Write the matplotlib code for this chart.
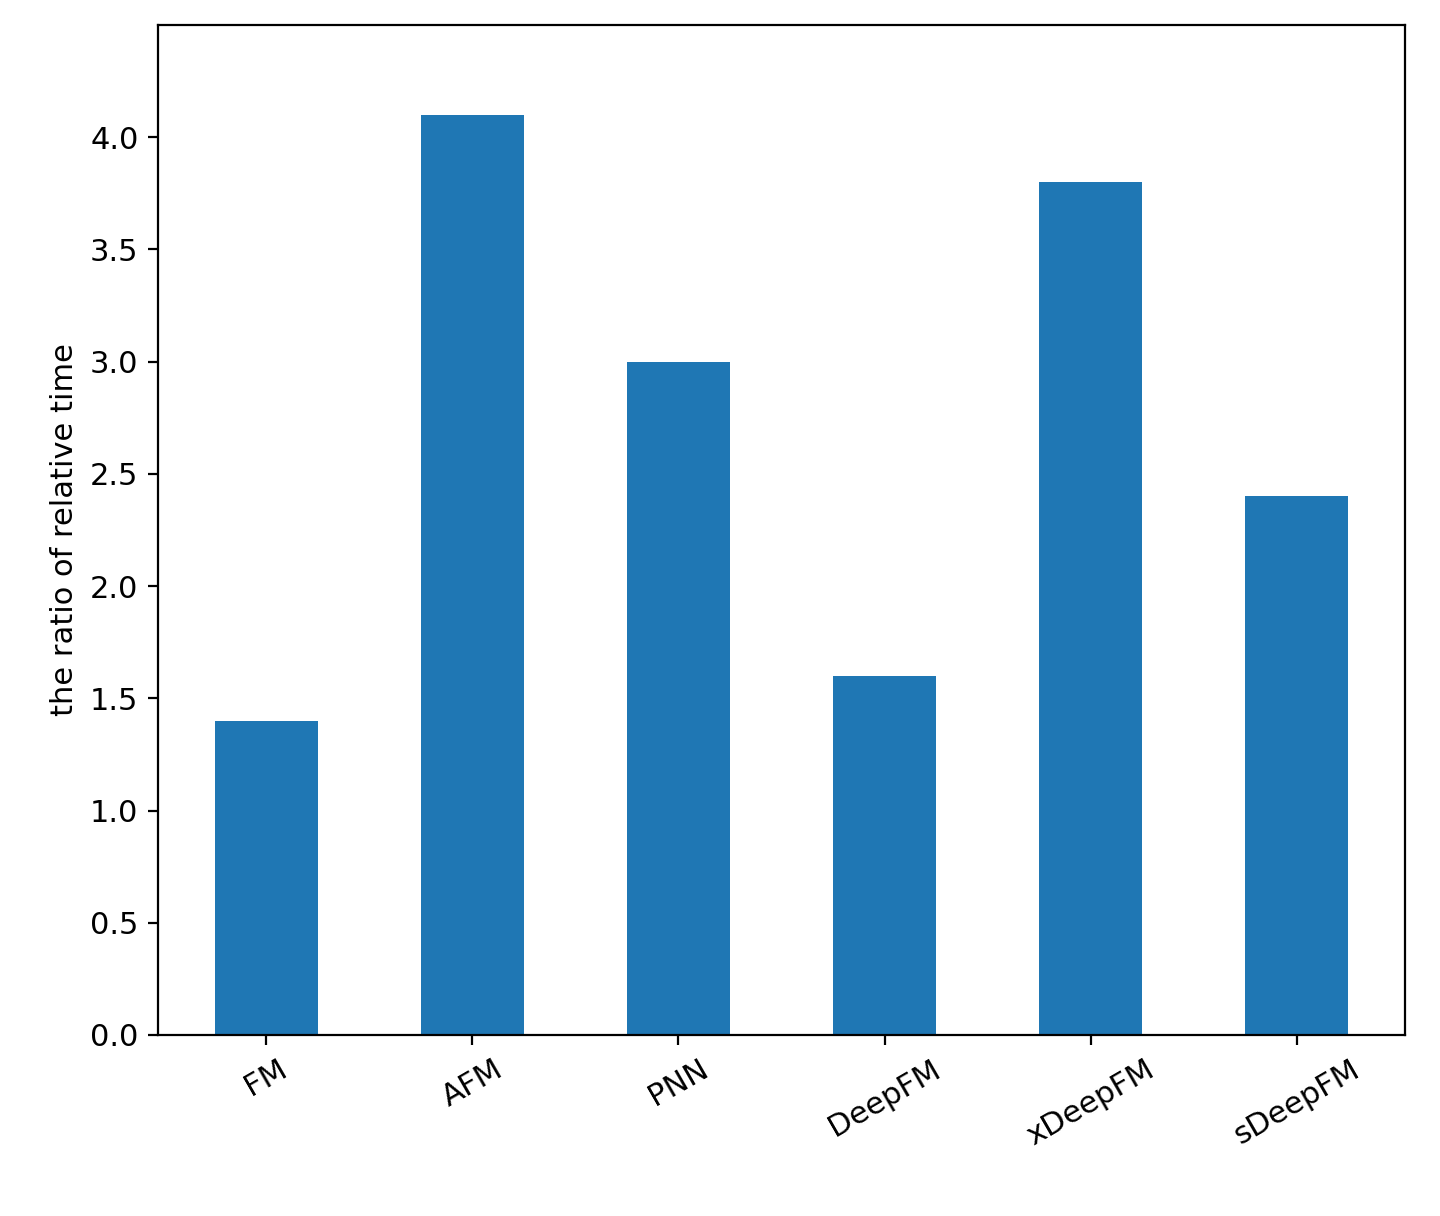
import matplotlib
matplotlib.use("Agg")
import matplotlib.pyplot as plt

models = ["FM", "AFM", "PNN", "DeepFM", "xDeepFM", "sDeepFM"]
ratios = [1.4, 4.1, 3.0, 1.6, 3.8, 2.4]

fig = plt.figure(figsize=(7.2, 6.08), dpi=200)
ax = fig.add_axes([158 / 1440, 1 - 1035 / 1216, (1405 - 158) / 1440, (1035 - 25) / 1216])

ax.bar(range(len(models)), ratios, width=0.5, color="#1f77b4")
ax.set_xticks(range(len(models)))
ax.set_xticklabels(models, rotation=30, fontsize=11)
ax.tick_params(axis="y", labelsize=11)
ax.set_ylim(0, 4.5)
ax.set_yticks([0.0, 0.5, 1.0, 1.5, 2.0, 2.5, 3.0, 3.5, 4.0])
ax.set_ylabel("the ratio of relative time", fontsize=11)

fig.savefig("out.png", dpi=200)
